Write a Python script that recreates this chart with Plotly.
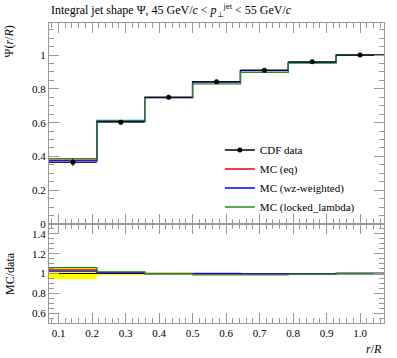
import plotly.graph_objects as go

# ---- data ----
bin_edges = [1/14, 3/14, 5/14, 7/14, 9/14, 11/14, 13/14, 15/14]
bin_centers = [1/7, 2/7, 3/7, 4/7, 5/7, 6/7, 1.0]
data_vals = [0.365, 0.603, 0.750, 0.842, 0.911, 0.960, 1.000]
data_errs = [0.021, 0.009, 0.005, 0.004, 0.003, 0.002, 0.0005]
mc_eq = [0.378, 0.609, 0.750, 0.842, 0.909, 0.957, 1.000]
mc_wz = [0.374, 0.607, 0.749, 0.841, 0.908, 0.957, 1.000]
mc_locked = [0.387, 0.613, 0.748, 0.830, 0.898, 0.953, 1.000]

series = [
    ("MC (eq)", mc_eq, "#e8000b"),
    ("MC (wz-weighted)", mc_wz, "#0000ff"),
    ("MC (locked_lambda)", mc_locked, "#1f8f1f"),
]

FONT = "Liberation Serif"
AX = "#999999"

def step(vals):
    return list(bin_edges), list(vals) + [vals[-1]]

fig = go.Figure()

# legend entries first
fig.add_trace(go.Scatter(x=[None], y=[None], mode="lines+markers", name="CDF data",
                         line=dict(color="black", width=1.3), marker=dict(color="black", size=5)))
for name, vals, col in series:
    fig.add_trace(go.Scatter(x=[None], y=[None], mode="lines", name=name,
                             line=dict(color=col, width=1.3)))

# ---- ratio panel: data band ----
lo = [1 - e / d for e, d in zip(data_errs, data_vals)]
hi = [1 + e / d for e, d in zip(data_errs, data_vals)]
x, y = step(lo)
fig.add_trace(go.Scatter(x=x, y=y, mode="lines", line=dict(width=0, shape="hv"),
                         showlegend=False, xaxis="x2", yaxis="y2", hoverinfo="skip"))
x, y = step(hi)
fig.add_trace(go.Scatter(x=x, y=y, mode="lines", line=dict(width=0, shape="hv"),
                         fill="tonexty", fillcolor="#ffff00",
                         showlegend=False, xaxis="x2", yaxis="y2", hoverinfo="skip"))
x, y = step([1.0] * len(data_vals))
fig.add_trace(go.Scatter(x=x, y=y, mode="lines", line=dict(color="black", width=1, shape="hv"),
                         showlegend=False, xaxis="x2", yaxis="y2"))
for name, vals, col in series:
    r = [v / d for v, d in zip(vals, data_vals)]
    x, y = step(r)
    fig.add_trace(go.Scatter(x=x, y=y, mode="lines", line=dict(color=col, width=1.3, shape="hv"),
                             showlegend=False, xaxis="x2", yaxis="y2"))

# ---- main panel ----
for name, vals, col in series:
    x, y = step(vals)
    fig.add_trace(go.Scatter(x=x, y=y, mode="lines", line=dict(color=col, width=1.3, shape="hv"),
                             showlegend=False, xaxis="x", yaxis="y"))

half_w = [(bin_edges[i + 1] - bin_edges[i]) / 2 for i in range(len(bin_centers))]
fig.add_trace(go.Scatter(
    x=bin_centers, y=data_vals, mode="markers",
    marker=dict(color="black", size=5),
    error_x=dict(type="data", array=half_w, color="black", thickness=1, width=0),
    error_y=dict(type="data", array=data_errs, color="black", thickness=1, width=0),
    showlegend=False, xaxis="x", yaxis="y"))

common_x = dict(range=[bin_edges[0], bin_edges[-1]], dtick=0.1, tick0=0.1,
                ticks="inside", ticklen=10, tickcolor=AX, tickwidth=1,
                minor=dict(dtick=0.02, tick0=0.0, ticks="inside", ticklen=5, tickcolor=AX),
                showline=True, linecolor=AX, linewidth=1, mirror="allticks",
                showgrid=False, zeroline=False, tickformat=".1f",
                tickfont=dict(family=FONT, size=11, color="black"))

fig.update_layout(
    width=397, height=358,
    margin=dict(l=49, r=13, t=23, b=35),
    paper_bgcolor="white", plot_bgcolor="white",
    font=dict(family=FONT, size=11, color="black"),
    xaxis=dict(common_x, domain=[0, 1], anchor="y", showticklabels=False),
    yaxis=dict(domain=[0.33, 1], range=[0, 1.19], anchor="x", dtick=0.2, tick0=0,
               ticks="inside", ticklen=10, tickcolor=AX,
               minor=dict(dtick=0.05, ticks="inside", ticklen=5, tickcolor=AX),
               showline=True, linecolor=AX, mirror="allticks", showgrid=False, zeroline=False,
               tickfont=dict(family=FONT, size=11, color="black")),
    xaxis2=dict(common_x, domain=[0, 1], anchor="y2", matches="x"),
    yaxis2=dict(domain=[0, 0.33], range=[0.5, 1.5], anchor="x2",
                tickvals=[0.6, 0.8, 1.0, 1.2, 1.4], ticktext=["0.6", "0.8", "1", "1.2", "1.4"],
                ticks="inside", ticklen=10, tickcolor=AX,
                minor=dict(dtick=0.05, tick0=0.5, ticks="inside", ticklen=5, tickcolor=AX),
                showline=True, linecolor=AX, mirror="allticks", showgrid=False, zeroline=False,
                tickfont=dict(family=FONT, size=11, color="black")),
    legend=dict(x=0.51, y=0.625, xanchor="left", yanchor="top", traceorder="normal",
                bgcolor="rgba(0,0,0,0)", font=dict(family=FONT, size=11),
                tracegroupgap=0, itemwidth=30),
    annotations=[
        dict(text="Integral jet shape Ψ, 45 GeV/<i>c</i> &lt; <i>p</i><sub>⊥</sub><sup>jet</sup> &lt; 55 GeV/<i>c</i>",
             xref="paper", yref="paper", x=0, y=1, xanchor="left", yanchor="bottom",
             yshift=2, showarrow=False, font=dict(family=FONT, size=12)),
        dict(text="Ψ(<i>r</i>/<i>R</i>)", textangle=-90, xref="paper", yref="paper",
             x=-0.145, y=1, xanchor="left", yanchor="top", showarrow=False,
             font=dict(family=FONT, size=12)),
        dict(text="MC/data", textangle=-90, xref="paper", yref="y2",
             x=-0.145, y=1.0, xanchor="left", yanchor="middle", showarrow=False,
             font=dict(family=FONT, size=12)),
        dict(text="<i>r</i>/<i>R</i>", xref="paper", yref="paper",
             x=1, y=0, xanchor="right", yanchor="top", yshift=-17, showarrow=False,
             font=dict(family=FONT, size=12)),
    ],
)

fig.write_html("out.html", config={"displayModeBar": False},
               post_script="document.body.style.margin='0';")
